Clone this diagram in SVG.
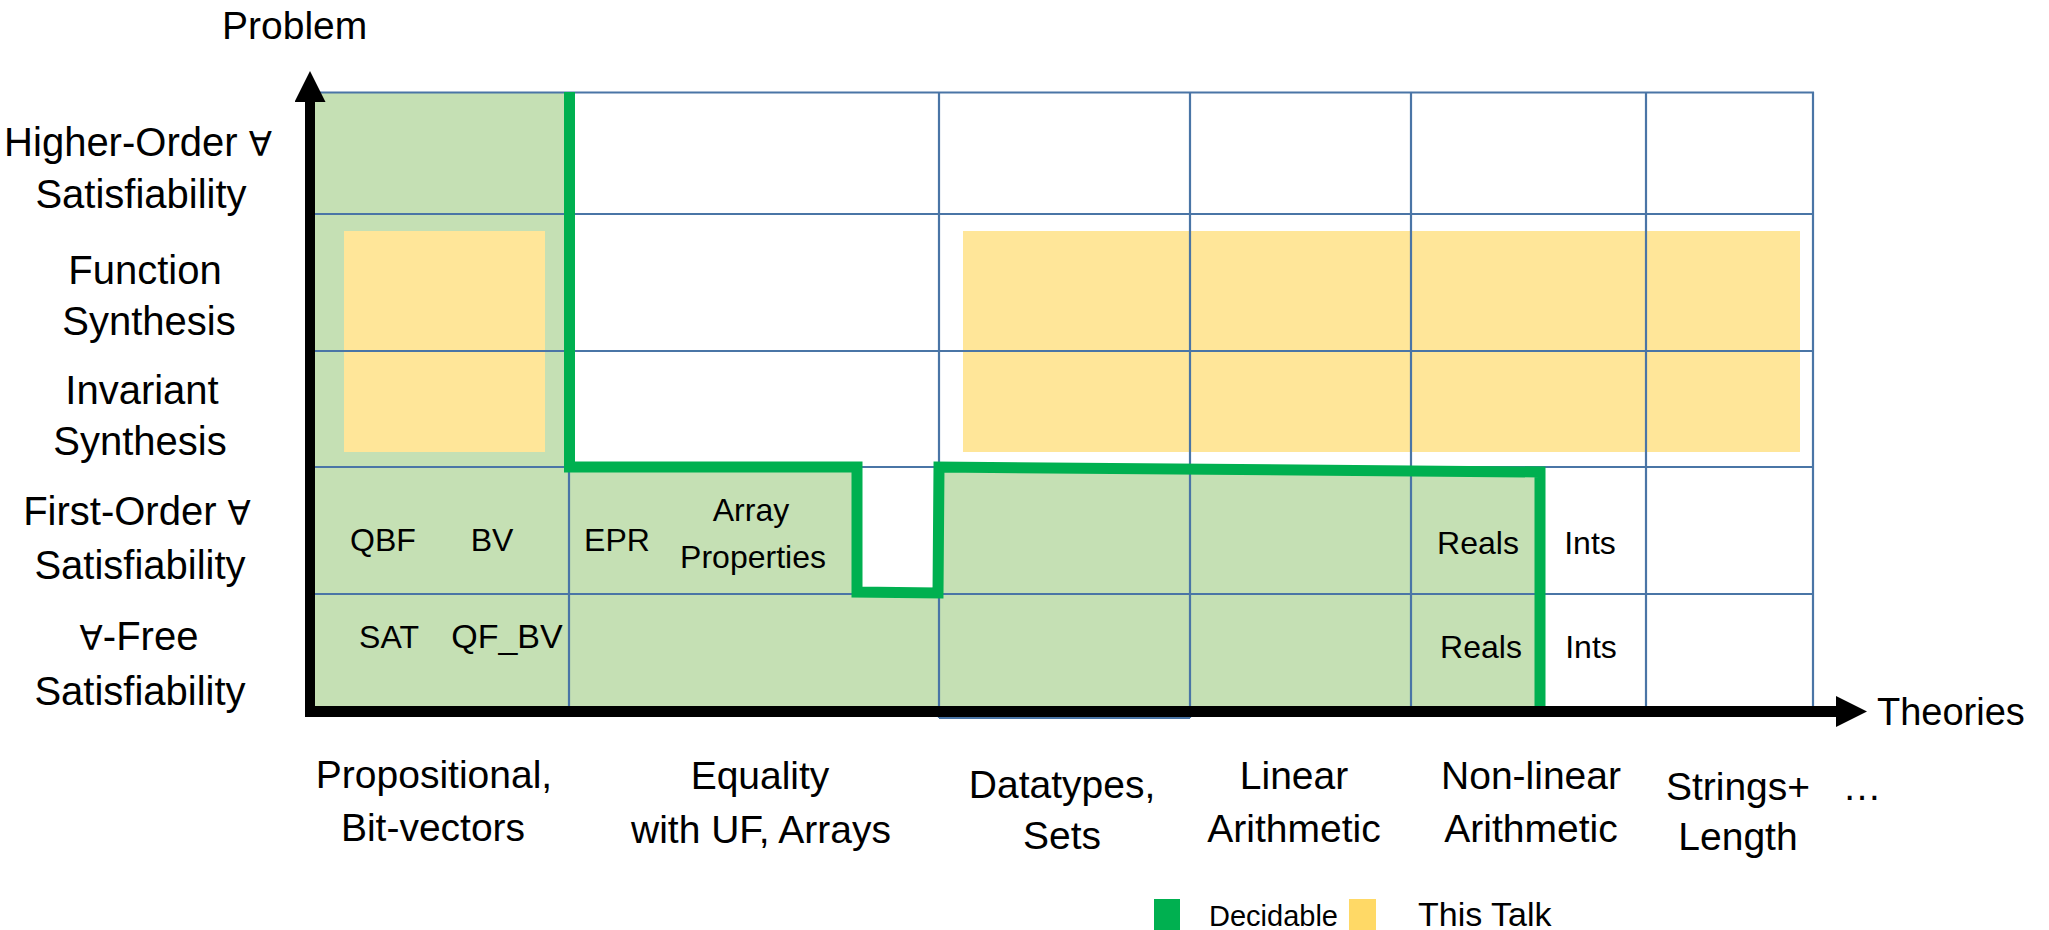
<svg xmlns="http://www.w3.org/2000/svg" width="2049" height="930" viewBox="0 0 2049 930">
  <style>
    text { font-family: "Liberation Sans", Arial, sans-serif; fill: #000; }
    .lbl { font-size: 40px; text-anchor: middle; }
    .all { font-family: "DejaVu Sans", sans-serif; font-size: 34px; }
    .col { font-size: 39px; text-anchor: middle; }
    .cell { font-size: 32px; text-anchor: middle; }
    .grid line { stroke: #4A75A6; stroke-width: 2.2; }
    .dec { fill: #C5E0B4; }
    .talk { fill: #FFE699; }
  </style>
  <defs>
    <marker id="axisHead" viewBox="0 0 10 10" refX="0" refY="5" markerUnits="userSpaceOnUse" markerWidth="33" markerHeight="31" orient="auto">
      <path d="M0,0 L10,5 L0,10 z" fill="#000"/>
    </marker>
  </defs>

  <rect width="2049" height="930" fill="#fff"/>

  <!-- decidable regions -->
  <g id="decidable-fill">
    <rect class="dec" x="315" y="92" width="254" height="620"/>
    <rect class="dec" x="569" y="467" width="288" height="127"/>
    <rect class="dec" x="569" y="594" width="370" height="118"/>
    <polygon class="dec" points="939,467 1540,472 1540,712 939,712"/>
  </g>

  <!-- regions covered in this talk -->
  <g id="talk-fill">
    <rect class="talk" x="344" y="231" width="201" height="221"/>
    <rect class="talk" x="963" y="231" width="837" height="221"/>
  </g>

  <!-- table grid -->
  <g id="grid" class="grid">
    <line x1="315" y1="92.5" x2="1814" y2="92.5"/>
    <line x1="315" y1="214" x2="1814" y2="214"/>
    <line x1="315" y1="351" x2="1814" y2="351"/>
    <line x1="315" y1="467" x2="1814" y2="467"/>
    <line x1="315" y1="594" x2="1814" y2="594"/>
    <line x1="569" y1="92" x2="569" y2="712"/>
    <line x1="939" y1="92" x2="939" y2="718"/>
    <line x1="1190" y1="92" x2="1190" y2="718"/>
    <line x1="1411" y1="92" x2="1411" y2="712"/>
    <line x1="1646" y1="92" x2="1646" y2="712"/>
    <line x1="1813" y1="92" x2="1813" y2="712"/>
    <line x1="939" y1="718" x2="1190" y2="718"/>
  </g>

  <!-- decidability frontier -->
  <g id="frontier">
    <path d="M569.5,92 V467 H857 V592 L938,593 L939,467 L1540,472 V707" fill="none" stroke="#00B050" stroke-width="11" stroke-linejoin="miter"/>
  </g>

  <!-- axes -->
  <g id="axes">
    <line x1="310" y1="717" x2="310" y2="102" stroke="#000" stroke-width="10" marker-end="url(#axisHead)"/>
    <line x1="305" y1="711.5" x2="1836" y2="711.5" stroke="#000" stroke-width="11" marker-end="url(#axisHead)"/>
    <text x="222" y="39" style="font-size:39px">Problem</text>
    <text x="1877" y="725" style="font-size:38px">Theories</text>
  </g>

  <!-- problem classes -->
  <g id="row-labels">
    <text class="lbl" x="138" y="156">Higher-Order <tspan class="all">∀</tspan></text>
    <text class="lbl" x="141" y="208">Satisfiability</text>
    <text class="lbl" x="145" y="284">Function</text>
    <text class="lbl" x="149" y="335">Synthesis</text>
    <text class="lbl" x="142" y="404">Invariant</text>
    <text class="lbl" x="140" y="455">Synthesis</text>
    <text class="lbl" x="137" y="525">First-Order <tspan class="all">∀</tspan></text>
    <text class="lbl" x="140" y="579">Satisfiability</text>
    <text class="lbl" x="139" y="650"><tspan class="all">∀</tspan>-Free</text>
    <text class="lbl" x="140" y="705">Satisfiability</text>
  </g>

  <!-- theories -->
  <g id="column-labels">
    <text class="col" x="434" y="788">Propositional,</text>
    <text class="col" x="433" y="841">Bit-vectors</text>
    <text class="col" x="760" y="789">Equality</text>
    <text class="col" x="761" y="843">with UF, Arrays</text>
    <text class="col" x="1062" y="798">Datatypes,</text>
    <text class="col" x="1062" y="849">Sets</text>
    <text class="col" x="1294" y="789">Linear</text>
    <text class="col" x="1294" y="842">Arithmetic</text>
    <text class="col" x="1531" y="789">Non-linear</text>
    <text class="col" x="1531" y="842">Arithmetic</text>
    <text class="col" x="1738" y="800">Strings+</text>
    <text class="col" x="1738" y="850">Length</text>
    <text class="col" x="1862" y="800">…</text>
  </g>

  <!-- cell entries -->
  <g id="cell-labels">
    <text class="cell" x="383" y="551">QBF</text>
    <text class="cell" x="492" y="551">BV</text>
    <text class="cell" x="389" y="648">SAT</text>
    <text class="cell" x="507" y="648" style="font-size:34px">QF_BV</text>
    <text class="cell" x="617" y="551">EPR</text>
    <text class="cell" x="751" y="521">Array</text>
    <text class="cell" x="753" y="568">Properties</text>
    <text class="cell" x="1478" y="554">Reals</text>
    <text class="cell" x="1590" y="554">Ints</text>
    <text class="cell" x="1481" y="658">Reals</text>
    <text class="cell" x="1591" y="658">Ints</text>
  </g>

  <!-- legend -->
  <g id="legend">
    <rect x="1154" y="899" width="26" height="31" fill="#00B050"/>
    <text x="1209" y="926" style="font-size:29px">Decidable</text>
    <rect x="1349" y="899" width="27" height="31" fill="#FFD966"/>
    <text x="1418" y="926" style="font-size:34px">This Talk</text>
  </g>
</svg>
